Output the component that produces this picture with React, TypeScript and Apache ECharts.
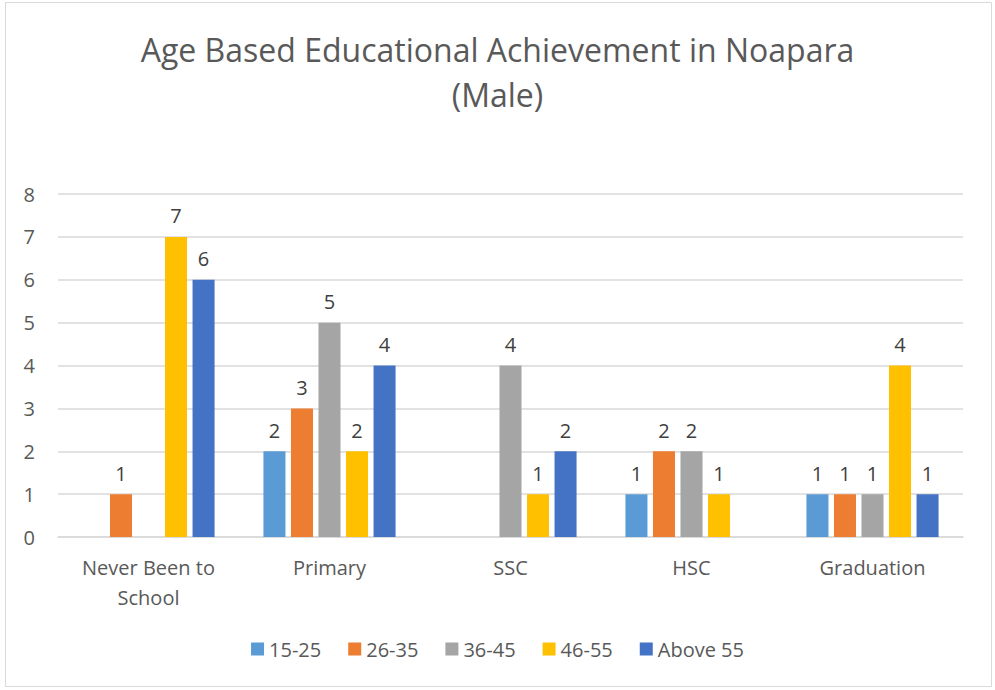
import React, { useEffect, useRef } from "react";
import * as echarts from "echarts";

const categories = ["Never Been to\nSchool", "Primary", "SSC", "HSC", "Graduation"];
const seriesNames = ["15-25", "26-35", "36-45", "46-55", "Above 55"];
const age15to25 = [0, 2, 0, 1, 1];
const age26to35 = [1, 3, 0, 2, 1];
const age36to45 = [0, 5, 4, 2, 1];
const age46to55 = [7, 2, 1, 1, 4];
const above55 = [6, 4, 2, 0, 1];
const yTicks = [0, 1, 2, 3, 4, 5, 6, 7, 8];
const colors = ["#5B9BD5", "#ED7D31", "#A5A5A5", "#FFC000", "#4472C4"];

const FONT = "Open Sans";

export default function App() {
  const ref = useRef<HTMLDivElement>(null);
  useEffect(() => {
    document.body.style.margin = "0";
    const chart = echarts.init(ref.current!, null, { renderer: "svg" });
    const allData = [age15to25, age26to35, age36to45, age46to55, above55];
    chart.setOption({
      animation: false,
      backgroundColor: "#ffffff",
      title: {
        text: "Age Based Educational Achievement in Noapara\n(Male)",
        left: "center",
        top: 22,
        textStyle: {
          fontFamily: FONT,
          fontSize: 32,
          fontWeight: "normal",
          color: "#595959",
          lineHeight: 45,
        },
      },
      graphic: [
        {
          type: "rect",
          shape: { x: 5.5, y: 2.5, width: 986, height: 684 },
          style: { fill: "none", stroke: "#d9d9d9", lineWidth: 1 },
          silent: true,
        },
      ],
      legend: {
        data: seriesNames,
        bottom: 26,
        left: "center",
        itemWidth: 13,
        itemHeight: 13,
        itemGap: 27,
        icon: "rect",
        textStyle: { fontFamily: FONT, fontSize: 20, color: "#595959" },
      },
      grid: { left: 58, right: 32, top: 194, bottom: 153, containLabel: false },
      xAxis: {
        type: "category",
        data: categories,
        axisLine: { lineStyle: { color: "#d9d9d9", width: 1.5 } },
        axisTick: { show: false },
        axisLabel: {
          fontFamily: FONT,
          fontSize: 20,
          color: "#595959",
          margin: 15,
          lineHeight: 30,
          interval: 0,
        },
      },
      yAxis: {
        type: "value",
        min: yTicks[0],
        max: yTicks[yTicks.length - 1],
        interval: 1,
        axisLine: { show: false },
        axisTick: { show: false },
        splitLine: { lineStyle: { color: "#d9d9d9", width: 1.5 } },
        axisLabel: { fontFamily: FONT, fontSize: 20, color: "#595959", margin: 23 },
      },
      series: seriesNames.map((name, i) => ({
        name,
        type: "bar",
        data: allData[i],
        barGap: "25%",
        barCategoryGap: "27%",
        itemStyle: { color: colors[i] },
        label: {
          show: true,
          position: "top",
          distance: 11,
          fontFamily: FONT,
          fontSize: 20,
          color: "#404040",
          formatter: (p: any) => (p.value === 0 ? "" : String(p.value)),
        },
      })),
    });
    return () => chart.dispose();
  }, []);
  return <div ref={ref} style={{ width: 995, height: 690 }} />;
}
